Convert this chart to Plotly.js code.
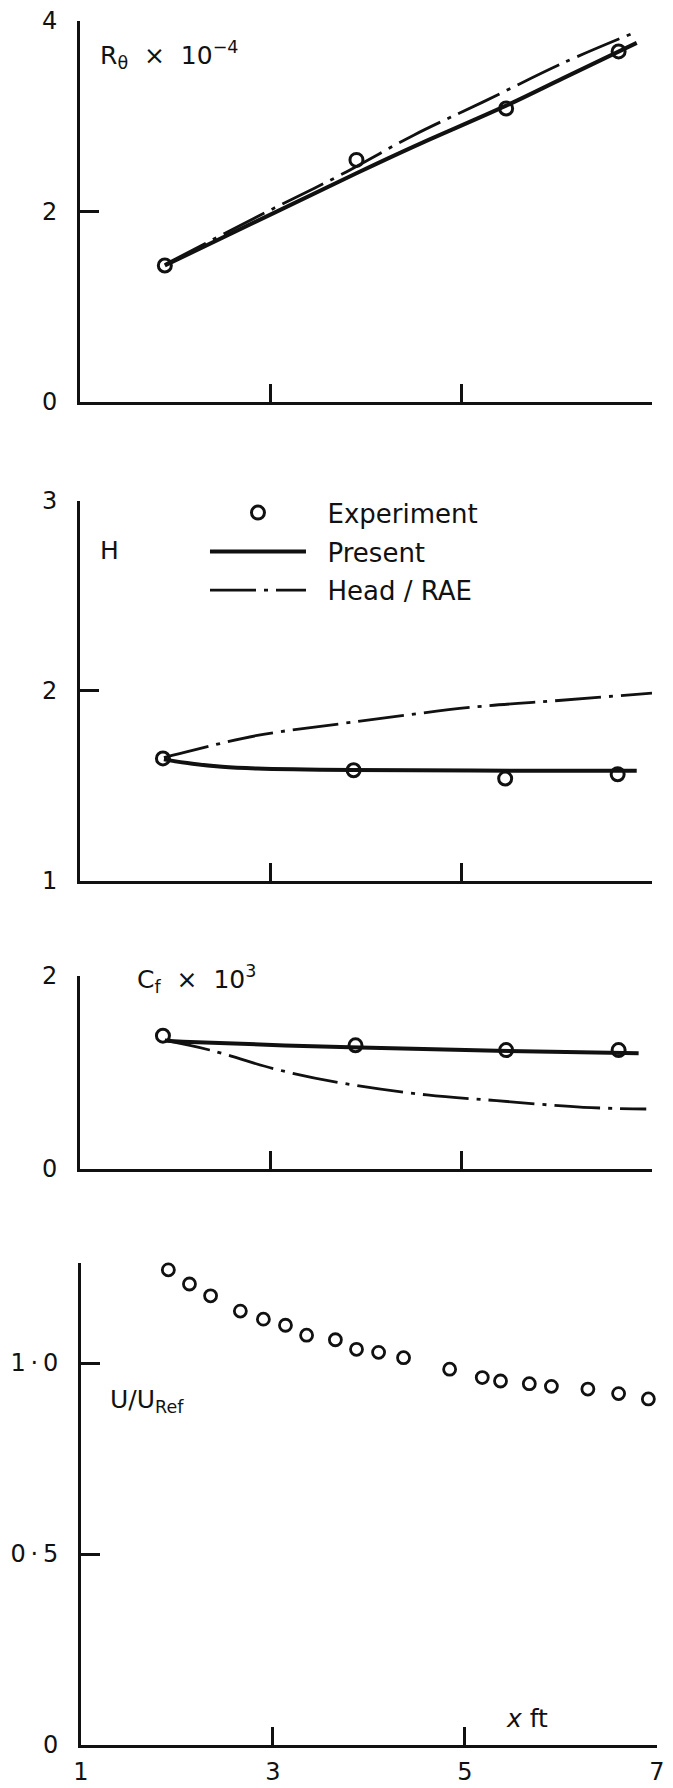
<!DOCTYPE html>
<html>
<head>
<meta charset="utf-8">
<script src="https://cdn.plot.ly/plotly-3.0.1.min.js"></script>
<style>
  html, body { margin: 0; padding: 0; background: #fff; }
  #chart { width: 673px; height: 1788px; }
</style>
</head>
<body>
<div id="chart"></div>
<script>
// ---- Momentum-thickness Reynolds number, R_theta x 10^-4 ----
const xExp = [1.89, 3.90, 5.47, 6.65];
const rthetaExp = [1.43, 2.54, 3.08, 3.68];
const xRthetaPresent = [1.89, 3.03, 3.90, 4.50, 5.47, 6.07, 6.84];
const rthetaPresent = [1.43, 1.98, 2.40, 2.68, 3.11, 3.40, 3.77];
const xRthetaHead = [1.89, 3.03, 3.73, 4.50, 5.23, 6.07, 6.82];
const rthetaHead = [1.44, 2.03, 2.38, 2.80, 3.15, 3.56, 3.88];

// ---- Shape factor H ----
const xExpH = [1.87, 3.87, 5.46, 6.64];
const hExp = [1.645, 1.583, 1.539, 1.562];
const xHPresent = [1.88, 2.18, 2.49, 2.86, 3.86, 5.12, 6.84];
const hPresent = [1.640, 1.617, 1.601, 1.592, 1.584, 1.581, 1.580];
const xHHead = [1.88, 2.18, 2.86, 3.86, 5.12, 6.02, 7.00];
const hHead = [1.650, 1.688, 1.766, 1.836, 1.915, 1.950, 1.989];

// ---- Skin friction coefficient, Cf x 10^3 ----
const xExpCf = [1.87, 3.89, 5.47, 6.65];
const cfExp = [1.38, 1.28, 1.23, 1.23];
const xCfPresent = [1.89, 2.08, 3.83, 5.37, 6.86];
const cfPresent = [1.33, 1.317, 1.259, 1.224, 1.197];
const xCfHead = [1.89, 2.36, 3.06, 3.76, 4.64, 5.37, 6.28, 6.94];
const cfHead = [1.33, 1.231, 1.030, 0.885, 0.764, 0.705, 0.636, 0.618];

// ---- Free-stream velocity ratio U/U_Ref ----
const xVel = [1.91, 2.13, 2.35, 2.66, 2.90, 3.13, 3.35, 3.65, 3.87, 4.10,
              4.36, 4.84, 5.18, 5.37, 5.67, 5.90, 6.28, 6.60, 6.91];
const uRatio = [1.244, 1.207, 1.176, 1.136, 1.115, 1.099, 1.073, 1.061, 1.036, 1.028,
                1.014, 0.984, 0.962, 0.953, 0.946, 0.939, 0.932, 0.920, 0.906];

// ---- Axis ticks ----
const xTicks = [1, 3, 5, 7];
const xTickText = ['1', '3', '5', '7'];
const rthetaTicks = [0, 2, 4];
const hTicks = [1, 2, 3];
const cfTicks = [0, 2];
const uTicks = [0, 0.5, 1.0];
const uTickText = ['0', '0\u2009·\u20095', '1\u2009·\u20090'];

const INK = '#111';
const FONT = 'DejaVu Sans, sans-serif';

const expMarker = { symbol: 'circle-open', size: 13, color: INK, line: { width: 3, color: INK } };
const presentLine = { color: INK, width: 4, shape: 'spline', smoothing: 1 };
const headLine = { color: INK, width: 2.8, dash: '46px,8px,4px,8px', shape: 'spline', smoothing: 1 };

const traces = [
  // top panel
  { x: xExp, y: rthetaExp, xaxis: 'x', yaxis: 'y', mode: 'markers', marker: expMarker,
    name: '\u00a0\u00a0Experiment', legendgroup: 'exp', showlegend: true, cliponaxis: false },
  { x: xRthetaPresent, y: rthetaPresent, xaxis: 'x', yaxis: 'y', mode: 'lines', line: presentLine,
    name: '\u00a0\u00a0Present', legendgroup: 'present', showlegend: true },
  { x: xRthetaHead, y: rthetaHead, xaxis: 'x', yaxis: 'y', mode: 'lines', line: headLine,
    name: '\u00a0\u00a0Head / RAE', legendgroup: 'head', showlegend: true },
  // H panel
  { x: xHPresent, y: hPresent, xaxis: 'x2', yaxis: 'y2', mode: 'lines', line: presentLine,
    legendgroup: 'present', showlegend: false },
  { x: xHHead, y: hHead, xaxis: 'x2', yaxis: 'y2', mode: 'lines', line: headLine,
    legendgroup: 'head', showlegend: false },
  { x: xExpH, y: hExp, xaxis: 'x2', yaxis: 'y2', mode: 'markers', marker: expMarker,
    legendgroup: 'exp', showlegend: false, cliponaxis: false },
  // Cf panel
  { x: xCfPresent, y: cfPresent, xaxis: 'x3', yaxis: 'y3', mode: 'lines', line: presentLine,
    legendgroup: 'present', showlegend: false },
  { x: xCfHead, y: cfHead, xaxis: 'x3', yaxis: 'y3', mode: 'lines', line: headLine,
    legendgroup: 'head', showlegend: false },
  { x: xExpCf, y: cfExp, xaxis: 'x3', yaxis: 'y3', mode: 'markers', marker: expMarker,
    legendgroup: 'exp', showlegend: false, cliponaxis: false },
  // velocity panel
  { x: xVel, y: uRatio, xaxis: 'x4', yaxis: 'y4', mode: 'markers',
    marker: { symbol: 'circle-open', size: 12, color: INK, line: { width: 2.8, color: INK } },
    showlegend: false, cliponaxis: false }
];

function xAxis(domain, anchor, labels) {
  return {
    domain: domain, anchor: anchor, range: [1, 7], fixedrange: true,
    showline: true, linewidth: 3, linecolor: INK,
    ticks: 'inside', ticklen: 18, tickwidth: 3, tickcolor: INK,
    tickvals: xTicks, ticktext: xTickText,
    showticklabels: labels, ticklabelstandoff: 3,
    tickfont: { family: FONT, size: 24, color: INK },
    showgrid: false, zeroline: false
  };
}
function yAxis(domain, anchor, range, vals, text) {
  return {
    domain: domain, anchor: anchor, range: range, fixedrange: true,
    showline: true, linewidth: 3, linecolor: INK,
    ticks: 'inside', ticklen: 19, tickwidth: 3, tickcolor: INK,
    tickvals: vals, ticktext: text || vals.map(String),
    ticklabelstandoff: 15,
    tickfont: { family: FONT, size: 24, color: INK },
    showgrid: false, zeroline: false
  };
}

const labelFont = { family: FONT, size: 25, color: INK };
function label(text, xref, yref, x, y) {
  return { text: text, xref: xref, yref: yref, x: x, y: y, xanchor: 'left', yanchor: 'middle',
           showarrow: false, font: labelFont };
}

const layout = {
  width: 673, height: 1788,
  margin: { l: 80, r: 16, t: 20, b: 43 },
  paper_bgcolor: '#fff', plot_bgcolor: '#fff',
  font: { family: FONT, color: INK },
  xaxis: xAxis([0, 0.9913], 'y', false),
  xaxis2: xAxis([0, 0.9913], 'y2', false),
  xaxis3: xAxis([0, 0.9913], 'y3', false),
  xaxis4: xAxis([0.0017, 1], 'y4', true),
  yaxis: yAxis([0.77884, 0.99942], 'x', [0, 4], rthetaTicks),
  yaxis2: yAxis([0.50087, 0.72116], 'x2', [1, 3], hTicks),
  yaxis3: yAxis([0.33420, 0.44580], 'x3', [0, 2], cfTicks),
  yaxis4: yAxis([0, 0.27942], 'x4', [0, 1.262], uTicks, uTickText),
  showlegend: true,
  legend: {
    x: 0.2166, y: 0.728, xanchor: 'left', yanchor: 'top',
    bgcolor: 'rgba(0,0,0,0)', borderwidth: 0,
    font: { family: FONT, size: 26, color: INK },
    itemwidth: 96, tracegroupgap: 2, traceorder: 'grouped'
  },
  annotations: [
    label('R<sub>θ</sub>  ×  10<sup>−4</sup>', 'x', 'y', 1.19, 3.64),
    label('H', 'x2', 'y2', 1.19, 2.74),
    label('C<sub>f</sub>  ×  10<sup>3</sup>', 'x3', 'y3', 1.58, 1.97),
    label('U/U<sub>Ref</sub>', 'x4', 'y4', 1.28, 0.90),
    label('<i>x</i> ft', 'x4', 'y4', 5.41, 0.07)
  ]
};

Plotly.newPlot('chart', traces, layout, { staticPlot: true, displayModeBar: false });
</script>
</body>
</html>
